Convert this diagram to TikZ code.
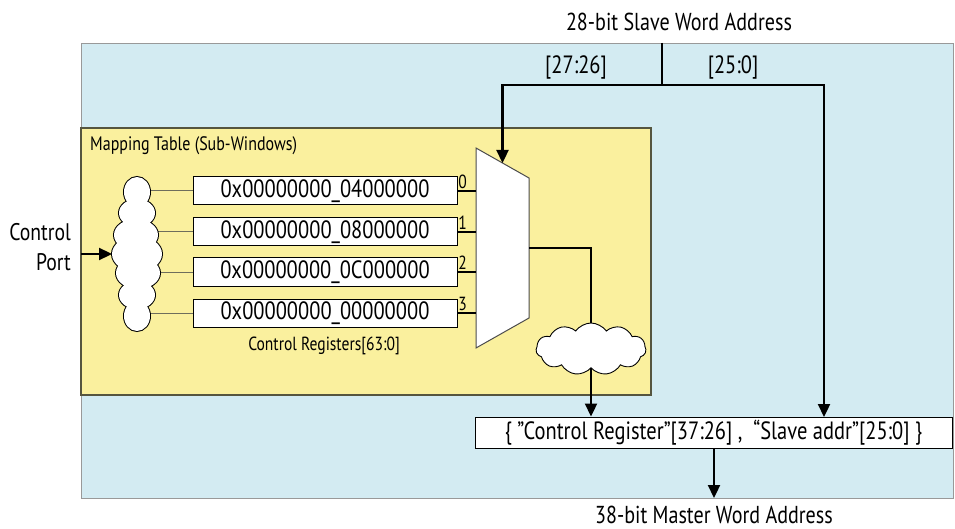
\documentclass[tikz,border=0pt]{standalone}
\usepackage{fontspec}
\setmainfont{PT Sans}[FakeStretch=0.82]
\usetikzlibrary{arrows.meta,shapes.symbols,calc}
\definecolor{bluebg}{HTML}{D3EBF2}
\definecolor{yellowbg}{HTML}{FAF09E}
\definecolor{yborder}{HTML}{55553F}
\begin{document}
\begin{tikzpicture}[x=1pt,y=-1pt,
  wire/.style={line width=2.3pt},
  arr/.style={line width=2.3pt,-{Triangle[length=13pt,width=12pt]}},
  thinwire/.style={line width=1pt,draw=yborder!85},
  reg/.style={draw=black,line width=1pt,fill=white,minimum width=264pt,minimum height=28pt,inner sep=0pt,font=\fontsize{25}{25}\selectfont},
  lbl/.style={inner sep=0pt,font=\fontsize{24.5}{24.5}\selectfont},
  small/.style={inner sep=0pt,font=\fontsize{19}{19}\selectfont},
  cloudbox/.style={cloud,draw=black,line width=0.9pt,fill=white,cloud ignores aspect,inner sep=0pt}
]
\useasboundingbox (0,0) rectangle (955,529);
% outer blue area
\draw[fill=bluebg,draw=gray!80,line width=0.8pt] (81,43) rectangle (953,498);
% mapping table
\draw[fill=yellowbg,draw=yborder,line width=1.2pt] (81,128) rectangle (651,395);
\node[small,anchor=west,font=\fontsize{19.5}{19.5}\selectfont] (mt) at (90,146) {Mapping Table (Sub-Windows)};
% registers
\node[reg] (r0) at (325,191) {0x00000000\_04000000};
\node[reg] (r1) at (325,232) {0x00000000\_08000000};
\node[reg] (r2) at (325,272) {0x00000000\_0C000000};
\node[reg] (r3) at (325,313) {0x00000000\_00000000};
\node[small] (creg) at (324,346) {Control Registers[63:0]};
% left cloud (union of puffs)
\coordinate (cl1c) at (137,254);
\coordinate (cl1w) at (112,254);
\foreach \r in {r0,r1,r2,r3} \draw[thinwire] (cl1c |- \r.west) -- (\r.west);
\foreach \dx/\y/\rx/\ry in {0/192/13/15, 0/213/18/14, -1/235/22/16, 0/254/25/18, 1/273/22/16, 0/295/18/14, 0/316/13/15}
  \draw[line width=2pt] ($(cl1c)+(\dx,\y-254)$) ellipse ({\rx} and {\ry});
\foreach \dx/\y/\rx/\ry in {0/192/13/15, 0/213/18/14, -1/235/22/16, 0/254/25/18, 1/273/22/16, 0/295/18/14, 0/316/13/15}
  \fill[white] ($(cl1c)+(\dx,\y-254)$) ellipse ({\rx} and {\ry});
% control port
\node[lbl,align=right,anchor=east,font=\fontsize{24}{30}\selectfont] (cport) at (71,247) {Control\\Port};
\coordinate (cpin) at (81,254);
\draw[arr] (cpin) -- (cl1w);
% mux
\coordinate (mTL) at (476,148);
\coordinate (mTR) at (529,178);
\coordinate (mBR) at (529,318);
\coordinate (mBL) at (476,348);
\draw[fill=white,draw=gray!60!black,line width=1pt] (mTL) -- (mTR) -- (mBR) -- (mBL) -- cycle;
\coordinate (msel) at ($(mTL)!0.5!(mTR)$);
\coordinate (mout) at (529,248);
\foreach \r/\d in {r0/0,r1/1,r2/2,r3/3}{
  \draw[line width=2pt] (\r.east) -- (\r.east -| mTL);
  \node[small,anchor=south] at ($(\r.east)+(5,-2)$) {\d};
}
% bottom cloud
\node[cloudbox,cloud puffs=11,cloud puff arc=110,minimum width=110pt,minimum height=52pt] (cl2) at (591,349) {};
\draw[wire] (mout) -| (cl2.north);
% concat box
\node[draw=black,line width=1pt,fill=white,minimum width=477pt,minimum height=31pt,inner sep=0pt,font=\fontsize{25}{25}\selectfont] (cat) at (713.5,432.5) {\{ ”Control Register”[37:26] , \ “Slave addr”[25:0] \}};
\draw[arr] (cl2.south) -- (cl2.south |- cat.north);
% top slave address
\node[lbl,anchor=base] (saddr) at (679,31) {28-bit Slave Word Address};
\coordinate (stop) at (662,43);
\coordinate (split) at (662,85);
\coordinate (cin2) at (824,417);
\draw[wire] (stop) -- (split);
\draw[arr] (split) -| (msel);
\draw[arr] (split) -| (cin2);
\node[lbl,font=\fontsize{25}{25}\selectfont] (b1) at (576,67) {[27:26]};
\node[lbl,font=\fontsize{25}{25}\selectfont] (b2) at (733,67) {[25:0]};
% master address
\coordinate (mo) at (714,498);
\draw[arr] (cat.south -| mo) -- (mo);
\node[lbl,anchor=base] (maddr) at (714,523) {38-bit Master Word Address};
\end{tikzpicture}
\end{document}
